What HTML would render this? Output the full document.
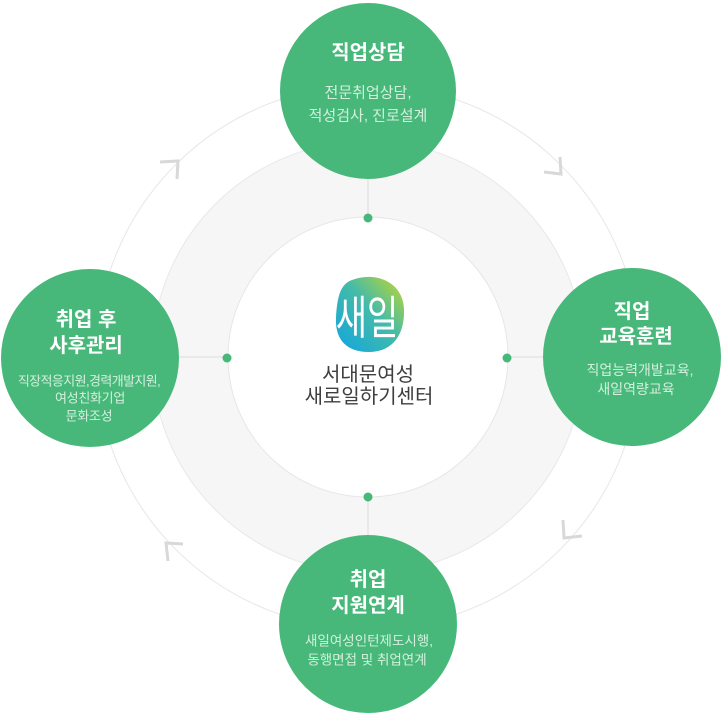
<!DOCTYPE html>
<html><head><meta charset="utf-8"><style>
html,body{margin:0;padding:0;background:#fff;}
svg{display:block;}
text{font-family:"Liberation Sans","Noto Sans CJK KR",sans-serif;}
</style></head><body>
<svg width="723" height="714" viewBox="0 0 723 714" xmlns="http://www.w3.org/2000/svg">
<defs>
<linearGradient id="lg" x1="1" y1="0" x2="0" y2="1">
<stop offset="0" stop-color="#c6d82c"/>
<stop offset="0.45" stop-color="#45bba8"/>
<stop offset="1" stop-color="#0fa5e2"/>
</linearGradient>
</defs>
<!-- outer thin circle -->
<circle cx="368" cy="357" r="272" fill="none" stroke="#e6e6e6" stroke-width="1"/>
<!-- gray band -->
<circle cx="368" cy="357" r="216" fill="#f6f6f6" stroke="#e8e8e8" stroke-width="1"/>
<circle cx="368" cy="357" r="140" fill="#ffffff" stroke="#e6e6e6" stroke-width="1"/>
<!-- connectors -->
<g stroke="#dcdcdc" stroke-width="1">
<line x1="368" y1="217" x2="368" y2="150"/>
<line x1="368" y1="497" x2="368" y2="560"/>
<line x1="228" y1="357" x2="160" y2="357"/>
<line x1="508" y1="357" x2="570" y2="357"/>
</g>
<g fill="#47b87a">
<circle cx="368" cy="218" r="4.5"/>
<circle cx="368" cy="497" r="4.5"/>
<circle cx="227" cy="358" r="4.5"/>
<circle cx="507" cy="358" r="4.5"/>
</g>
<!-- chevrons -->
<g fill="none" stroke="#d8d8d8" stroke-width="3" stroke-linejoin="miter">
<polyline points="160,162 178,161 177,179"/>
<polyline points="544,172 561,174 560,157"/>
<polyline points="563,520 564,538 582,536"/>
<polyline points="183,544 166,543 168,561"/>
</g>
<!-- green circles -->
<g fill="#47b87a">
<circle cx="368" cy="91" r="88"/>
<circle cx="632" cy="357" r="89"/>
<circle cx="90" cy="358" r="89"/>
<circle cx="368" cy="624" r="89"/>
</g>
<!-- top -->
<g text-anchor="middle" dominant-baseline="central">
<text x="368" y="53" font-size="20" font-weight="bold" fill="#fff">직업상담</text>
<text x="368" y="93" font-size="15" fill="#d3f0dd">전문취업상담,</text>
<text x="368" y="116" font-size="15" fill="#d3f0dd">적성검사, 진로설계</text>
<!-- right -->
<text x="632" y="312" font-size="20" font-weight="bold" fill="#fff">직업</text>
<text x="636" y="337" font-size="20" font-weight="bold" fill="#fff">교육훈련</text>
<text x="640" y="370" font-size="14" fill="#d3f0dd">직업능력개발교육,</text>
<text x="636" y="389" font-size="14" fill="#d3f0dd">새일역량교육</text>
<!-- left -->
<text x="86" y="320" font-size="20" font-weight="bold" fill="#fff">취업 후</text>
<text x="86" y="346" font-size="20" font-weight="bold" fill="#fff">사후관리</text>
<text x="89" y="381" font-size="13" fill="#d3f0dd" letter-spacing="-0.6">직장적응지원,경력개발지원,</text>
<text x="90" y="398" font-size="13" fill="#d3f0dd" letter-spacing="-0.3">여성친화기업</text>
<text x="89" y="416" font-size="13" fill="#d3f0dd" letter-spacing="-0.3">문화조성</text>
<!-- bottom -->
<text x="368" y="580" font-size="20" font-weight="bold" fill="#fff">취업</text>
<text x="368" y="606" font-size="20" font-weight="bold" fill="#fff">지원연계</text>
<text x="369" y="641" font-size="13.5" fill="#d3f0dd">새일여성인턴제도시행,</text>
<text x="367" y="660" font-size="13.5" fill="#d3f0dd">동행면접 및 취업연계</text>
<!-- center -->
<text x="368" y="375" font-size="20" fill="#3f3f3f">서대문여성</text>
<text x="369" y="397" font-size="20" fill="#3f3f3f">새로일하기센터</text>
</g>
<!-- logo -->
<path d="M352 280 C376 271,403 282,404 309 C405 334,393 352,369 352 C346 352,335 339,336 318 C337 298,340 284,352 280 Z" fill="url(#lg)"/>
<text x="0" y="0" font-size="34" fill="#fff" text-anchor="middle" dominant-baseline="central" transform="translate(367,318) scale(1,1.35)">새일</text>
</svg>
</body></html>
